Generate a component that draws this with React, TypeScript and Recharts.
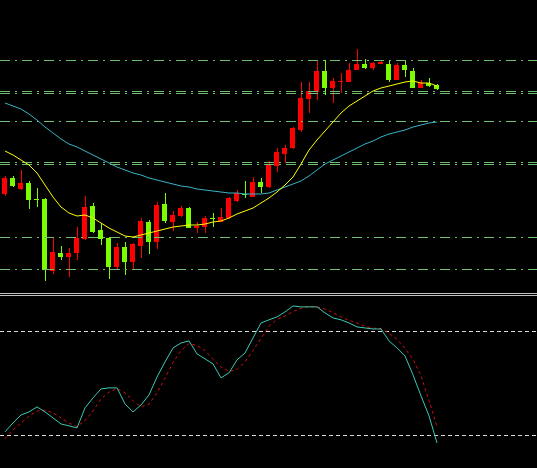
import { ComposedChart, LineChart, Bar, Line, XAxis, YAxis, ReferenceLine } from "recharts";

// candles, price units (higher = up)
const opens = [106, 122, 111, 117, 101, 101, 29, 47, 43, 47, 61, 94, 70, 62, 33, 53, 38, 54, 78, 58, 96, 78, 84, 92, 72, 73, 82, 78, 82, 99, 106, 103, 118, 113, 134, 146, 152, 170, 201, 208, 229, 212, 218, 218, 230, 236, 232, 236, 236, 220, 235, 229, 212, 217, 215];
const closes = [122, 114, 117, 100, 100.5, 30, 48, 43, 47, 62, 93, 68, 61, 33, 53, 38, 56, 79, 58, 95, 79, 85, 92, 72, 74, 82, 81, 83, 102, 107, 105, 118, 113, 136, 148, 152, 172, 202, 209, 229, 212, 219, 219, 230, 236, 232, 237, 238, 220, 235, 230, 212, 217, 214, 211];
const highs = [124, 124, 130, 119, 112, 102, 63, 54, 52, 73, 104, 97, 77, 63, 57, 58, 57, 82, 80, 98, 107, 89, 94, 93, 78, 84, 87, 92, 103, 110, 119, 123, 122, 139, 152, 155, 173, 218, 218, 240, 240, 222, 227, 237, 251, 241, 238, 240, 240, 237, 240, 232, 220, 222, 216];
const lows = [104, 113, 110, 91, 93, 19, 26, 40, 23, 40, 60, 67, 55, 21, 30, 25, 31, 42, 46, 51, 77, 69, 83, 72, 67, 67, 73, 78, 81, 98, 102, 103, 107, 112, 128, 137, 151, 168, 187, 200, 205, 197, 207, 218, 230, 231, 230, 236, 218, 220, 223, 212, 212, 213, 210];

// moving averages
const maFast = [149, 145, 140, 135, 127, 115, 103, 93, 87, 84, 85, 82, 77, 72, 68, 64, 63, 65, 67, 69, 71, 73, 74, 75, 75, 76, 78, 79, 82, 86, 89, 92, 97, 102, 108, 115, 123, 136, 150, 160, 169, 178, 187, 194, 199, 204, 209, 212, 214, 216, 218, 219, 217, 217, 214];
const maSlow = [197, 194, 191, 186, 180, 173, 167, 161, 156, 153, 149, 145, 141, 137, 133, 130, 127, 125, 122, 120, 118, 116, 114, 113, 111, 110, 109, 108, 107, 107, 106, 106, 106, 107, 110, 113, 116, 119, 124, 130, 136, 140, 144, 148, 152, 156, 159, 163, 166, 168, 170, 173, 175, 177, 178];

// horizontal levels on the price panel
const priceLevels = [240, 209, 207, 179, 138, 136, 63, 31];

// stochastic
const stochK = [21.9, 27.1, 31.7, 33.5, 36.4, 33.5, 30, 26.5, 25.4, 24.2, 35.8, 41.6, 46.8, 47.4, 47.4, 38.1, 33.5, 37.5, 43.3, 53.7, 62.4, 70.5, 73.4, 74.6, 67.1, 64.2, 61.3, 53.2, 56.1, 63.6, 67.6, 76.3, 85, 86.8, 88.5, 91.4, 94.8, 94.3, 94.3, 94.3, 90.8, 87.9, 86.8, 85, 82.7, 82.1, 81.5, 81.5, 74.6, 70.5, 65.9, 54.9, 42.8, 31.2, 15.5];
const stochD = [18, 23, 27, 31, 34, 34.5, 33, 30, 27, 25, 28.5, 34, 41, 45, 47, 44.5, 40, 36.5, 38, 44.5, 53, 62, 69, 73, 72, 69, 64, 59.5, 57, 58, 62.5, 69, 76, 83, 87, 89, 91.5, 93.5, 94.5, 94.3, 93, 91, 88.5, 86.5, 85, 83, 82, 81.7, 79, 75.5, 70.3, 63.8, 54.5, 40, 25];
const stochLevels = [80, 20];

const RED = "#ff0000";
const GREEN = "#7cfc00";

const candles = opens.map((o, i) => ({
  i,
  open: o,
  close: closes[i],
  high: highs[i],
  low: lows[i],
  fast: maFast[i],
  slow: maSlow[i],
}));

const stoch = stochK.map((k, i) => ({ i, k, d: stochD[i] }));

const X_DOMAIN: [number, number] = [-0.625, 66.5];

const Candle = (props: any) => {
  const { x, y, width, height, payload } = props;
  const { open, close, high, low } = payload;
  const color = close >= open ? RED : GREEN;
  const ratio = high === low ? 0 : height / (high - low);
  const top = y + (high - Math.max(open, close)) * ratio;
  const bot = y + (high - Math.min(open, close)) * ratio;
  const cx = Math.round(x + width / 2) + 0.5;
  return (
    <g shapeRendering="crispEdges">
      <line x1={cx} x2={cx} y1={y} y2={y + height} stroke={color} strokeWidth={1} />
      <rect x={Math.round(x)} y={top} width={width} height={Math.max(1, bot - top)} fill={color} />
    </g>
  );
};

export default function App() {
  return (
    <div style={{ position: "fixed", left: 0, top: 0, width: 537, height: 468, background: "#000", overflow: "hidden" }}>
      <div style={{ position: "absolute", left: 0, top: 0 }}>
        <ComposedChart width={537} height={293} data={candles} margin={{ top: 0, right: 0, bottom: 0, left: 0 }}>
          <XAxis dataKey="i" type="number" domain={X_DOMAIN} allowDataOverflow hide />
          <YAxis type="number" domain={[7, 300]} allowDataOverflow hide />
          {priceLevels.map((v) => (
            <ReferenceLine key={v} y={v} stroke="#6fbf6f" strokeDasharray="10 5 2 5" shapeRendering="crispEdges" />
          ))}
          <Bar dataKey={(d: any) => [d.low, d.high]} barSize={5} shape={Candle} isAnimationActive={false} />
          <Line dataKey="slow" stroke="#3ab4c8" strokeWidth={1} dot={false} activeDot={false} isAnimationActive={false} />
          <Line dataKey="fast" stroke="#ffff00" strokeWidth={1} dot={false} activeDot={false} isAnimationActive={false} />
        </ComposedChart>
      </div>
      <div style={{ position: "absolute", left: 0, top: 293, width: 537, height: 1, background: "#c0c0c0" }} />
      <div style={{ position: "absolute", left: 0, top: 295, width: 537, height: 1, background: "#c0c0c0" }} />
      <div style={{ position: "absolute", left: 0, top: 296 }}>
        <LineChart width={537} height={172} data={stoch} margin={{ top: 0, right: 0, bottom: 0, left: 0 }}>
          <XAxis dataKey="i" type="number" domain={X_DOMAIN} allowDataOverflow hide />
          <YAxis type="number" domain={[1, 100.6]} allowDataOverflow hide />
          {stochLevels.map((v) => (
            <ReferenceLine key={v} y={v} stroke="#d8d8d8" strokeDasharray="4 3" shapeRendering="crispEdges" />
          ))}
          <Line dataKey="d" stroke="#d01010" strokeDasharray="3 3" strokeWidth={1} dot={false} activeDot={false} isAnimationActive={false} />
          <Line dataKey="k" stroke="#3cc8b4" strokeWidth={1} dot={false} activeDot={false} isAnimationActive={false} />
        </LineChart>
      </div>
    </div>
  );
}
